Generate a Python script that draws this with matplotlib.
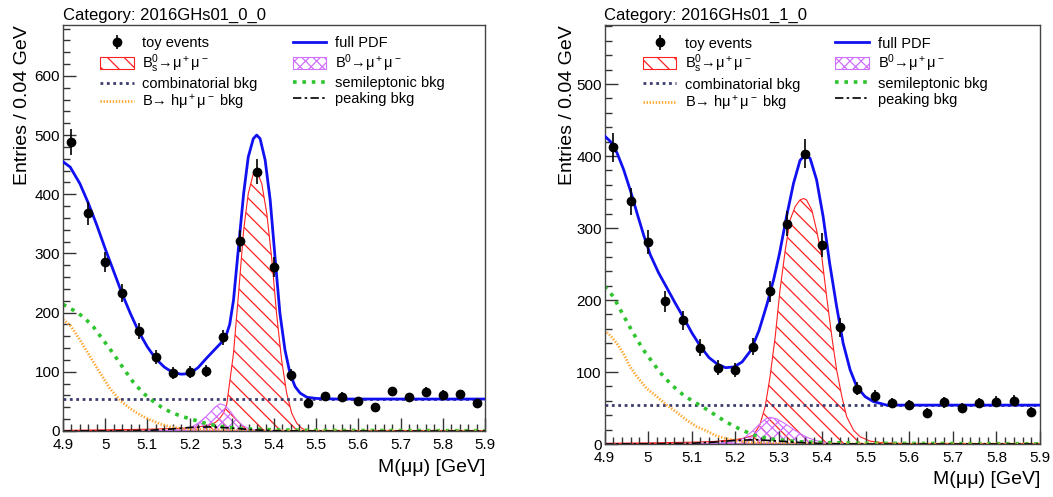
import numpy as np
import matplotlib
matplotlib.use("Agg")
import matplotlib.pyplot as plt
from matplotlib import ticker

plt.rcParams['font.family'] = ['Liberation Sans', 'DejaVu Sans']
plt.rcParams['mathtext.fontset'] = 'custom'
plt.rcParams['mathtext.rm'] = 'Liberation Sans'
plt.rcParams['mathtext.it'] = 'Liberation Sans:italic'
plt.rcParams['mathtext.default'] = 'regular'
plt.rcParams['hatch.linewidth'] = 0.9

# bin centres (0.04 GeV bins)
bin_centres = np.round(np.arange(4.92, 5.9, 0.04), 2)

# ---------------- category 2016GHs01_0_0 ----------------
cat0_counts = [488, 368, 286, 233, 169, 125, 98, 100, 101, 158, 321, 438, 277,
               95, 48, 59, 58, 51, 40, 67, 57, 66, 61, 62, 47]

cat0_full_x = [4.900, 4.917, 4.940, 4.960, 4.980, 5.000, 5.020, 5.040, 5.060, 5.080,
               5.100, 5.120, 5.140, 5.160, 5.180, 5.200, 5.220, 5.240, 5.260, 5.272,
               5.285, 5.295, 5.304, 5.316, 5.328, 5.339, 5.351, 5.359, 5.367, 5.379,
               5.391, 5.403, 5.414, 5.426, 5.438, 5.450, 5.462, 5.478, 5.500, 5.550, 5.900]
cat0_full_y = [455, 446, 418, 385, 348, 308, 270, 232, 198, 167,
               142, 122, 108, 99, 96, 97, 107, 123, 138, 147,
               158, 180, 221, 311, 401, 463, 494, 500, 494, 458,
               390, 289, 199, 137, 97, 75, 64, 57, 55, 54, 54]

cat0_bs_x = [4.90, 5.00, 5.10, 5.20, 5.24, 5.26, 5.27, 5.28, 5.288, 5.304, 5.316,
             5.328, 5.339, 5.351, 5.359, 5.371, 5.383, 5.395, 5.406, 5.418, 5.430,
             5.442, 5.454, 5.466, 5.478, 5.50, 5.90]
cat0_bs_y = [1, 2, 3, 5, 9, 14, 20, 30, 45, 131, 232,
             339, 401, 435, 440, 418, 367, 289, 199, 120, 64,
             30, 13, 4.5, 1, 0, 0]

cat0_b0_x = [5.10, 5.15, 5.18, 5.20, 5.22, 5.24, 5.26, 5.272, 5.285, 5.30, 5.31,
             5.324, 5.34, 5.36, 5.40]
cat0_b0_y = [0, 1, 2, 5, 13, 25, 40, 46, 43, 30, 20, 10, 4, 1, 0]

cat0_comb_x = [4.9, 5.9]
cat0_comb_y = [54, 54]

cat0_semi_x = [4.900, 4.925, 4.948, 4.972, 4.995, 5.019, 5.043, 5.066, 5.090, 5.114,
               5.138, 5.161, 5.185, 5.209, 5.232, 5.256, 5.280, 5.319, 5.40, 5.50, 5.90]
cat0_semi_y = [214, 204, 193, 176, 154, 131, 106, 83, 64, 50,
               38, 30, 24, 19, 14, 10, 7, 4, 2, 1, 0.5]

cat0_hmm_x = [4.900, 4.917, 4.940, 4.964, 4.988, 5.011, 5.035, 5.059, 5.083, 5.106,
              5.130, 5.154, 5.178, 5.209, 5.30, 5.40, 5.90]
cat0_hmm_y = [188, 179, 154, 126, 98, 72, 52, 38, 27, 19,
              12, 7, 4.5, 3, 1, 0.3, 0]

cat0_peak_x = [4.90, 5.05, 5.10, 5.15, 5.20, 5.25, 5.30, 5.35, 5.40, 5.50, 5.90]
cat0_peak_y = [0, 0.5, 1, 3, 6, 7, 5, 2, 0.5, 0, 0]

# ---------------- category 2016GHs01_1_0 ----------------
cat1_counts = [412, 337, 280, 198, 172, 134, 106, 103, 135, 212, 306, 403, 276,
               162, 77, 67, 57, 54, 43, 58, 50, 57, 59, 60, 45]

cat1_full_x = [4.900, 4.914, 4.929, 4.944, 4.960, 4.975, 4.990, 5.005, 5.024, 5.044,
               5.063, 5.082, 5.101, 5.121, 5.140, 5.159, 5.178, 5.197, 5.216, 5.236,
               5.255, 5.274, 5.289, 5.302, 5.318, 5.334, 5.349, 5.360, 5.372, 5.387,
               5.402, 5.417, 5.433, 5.448, 5.464, 5.479, 5.498, 5.517, 5.548, 5.900]
cat1_full_y = [428, 420, 404, 381, 351, 320, 290, 263, 238, 216,
               195, 175, 154, 135, 120, 111, 106, 107, 114, 130,
               158, 196, 230, 265, 316, 362, 394, 401, 397, 367,
               316, 251, 191, 140, 103, 80, 66, 59, 54, 54]

cat1_bs_x = [4.90, 5.00, 5.10, 5.15, 5.20, 5.22, 5.242, 5.257, 5.269, 5.280, 5.292,
             5.303, 5.315, 5.326, 5.338, 5.349, 5.357, 5.364, 5.376, 5.387, 5.399,
             5.410, 5.422, 5.433, 5.445, 5.456, 5.472, 5.487, 5.510, 5.541, 5.60, 5.90]
cat1_bs_y = [1, 1.5, 2.5, 3.5, 6, 8, 12, 27, 52, 93, 149,
             214, 269, 311, 330, 339, 341, 339, 325, 297, 260,
             205, 149, 103, 66, 38, 19, 10, 4, 1.5, 0.5, 0]

cat1_b0_x = [5.10, 5.16, 5.20, 5.22, 5.24, 5.255, 5.27, 5.28, 5.295, 5.31, 5.33,
             5.35, 5.37, 5.39, 5.42, 5.46]
cat1_b0_y = [0, 1, 3, 8, 18, 27, 35, 37, 35, 30, 22, 14, 8, 4, 1, 0]

cat1_comb_x = [4.9, 5.9]
cat1_comb_y = [54, 54]

cat1_semi_x = [4.900, 4.920, 4.943, 4.966, 4.989, 5.012, 5.035, 5.058, 5.081, 5.104,
               5.127, 5.150, 5.173, 5.196, 5.219, 5.242, 5.265, 5.288, 5.35, 5.40,
               5.50, 5.90]
cat1_semi_y = [219, 205, 179, 154, 131, 112, 94, 80, 68, 59,
               51, 42, 33, 25, 18.5, 12.5, 9, 6.5, 3, 2, 1, 0.3]

cat1_hmm_x = [4.900, 4.913, 4.928, 4.943, 4.959, 4.974, 4.997, 5.020, 5.043, 5.066,
              5.089, 5.112, 5.135, 5.158, 5.181, 5.204, 5.235, 5.30, 5.40, 5.90]
cat1_hmm_y = [158, 151, 140, 126, 107, 94, 77, 66, 54, 44,
              33, 24, 18, 11, 7.4, 4.6, 2, 1, 0.3, 0]

cat1_peak_x = [4.90, 5.05, 5.10, 5.15, 5.20, 5.25, 5.30, 5.35, 5.40, 5.50, 5.90]
cat1_peak_y = [0, 0.5, 1, 2.5, 5, 6, 4, 2, 0.5, 0, 0]


def draw_category(ax, title, counts, full, bs, b0, comb, semi, hmm, peak, ymax,
                  ylab_x, xlab_y):
    ax.fill_between(bs[0], bs[1], 0, facecolor='none', edgecolor='#ff2020',
                    hatch='\\\\', linewidth=0.8, zorder=1,
                    label=r'B$_s^0$→μ$^+$μ$^-$')
    ax.fill_between(b0[0], b0[1], 0, facecolor='none', edgecolor='#d070ff',
                    hatch='xxx', linewidth=0.8, zorder=1,
                    label=r'B$^0$→μ$^+$μ$^-$')
    ax.plot(comb[0], comb[1], color='#3c3c6e', lw=2.0, ls=(0, (1, 1.3)), zorder=2,
            label='combinatorial bkg')
    ax.plot(semi[0], semi[1], color='#2ec42e', lw=2.6, ls=(0, (1, 1.6)), zorder=2,
            label='semileptonic bkg')
    ax.plot(hmm[0], hmm[1], color='#ffa733', lw=2.0, ls=(0, (0.5, 0.6)), zorder=2,
            label=r'B→ hμ$^+$μ$^-$ bkg')
    ax.plot(peak[0], peak[1], color='black', lw=1.2, ls=(0, (5, 2, 1.5, 2)), zorder=2,
            label='peaking bkg')
    ax.plot(full[0], full[1], color='#1010f0', lw=2.0, zorder=3, label='full PDF')
    cnt = np.array(counts, dtype=float)
    ax.errorbar(bin_centres, cnt, yerr=np.sqrt(cnt), fmt='o', color='black', ms=6,
                elinewidth=1.2, capsize=0, zorder=5, label='toy events')

    ax.set_xlim(4.9, 5.9)
    ax.set_ylim(0, ymax)
    ax.xaxis.set_major_locator(ticker.MultipleLocator(0.1))
    ax.xaxis.set_minor_locator(ticker.MultipleLocator(0.02))
    ax.xaxis.set_major_formatter(ticker.FormatStrFormatter('%g'))
    ax.yaxis.set_major_locator(ticker.MultipleLocator(100))
    ax.yaxis.set_minor_locator(ticker.MultipleLocator(20))
    ax.tick_params(which='both', direction='in', top=False, right=False,
                   labelsize=11, color='#333333')
    ax.tick_params(which='major', length=9.5, width=1.0)
    ax.tick_params(which='minor', length=5, width=1.0)
    ax.tick_params(axis='y', pad=2)
    ax.tick_params(axis='x', pad=5)
    for lab in ax.get_yticklabels():
        lab.set_va('center_baseline')
    for s in ax.spines.values():
        s.set_color('#444444')
        s.set_linewidth(1.0)

    ax.set_title(title, loc='left', fontsize=12, pad=3.5)
    ax.set_ylabel('Entries / 0.04 GeV', fontsize=14, loc='top')
    ax.yaxis.set_label_coords(ylab_x, 1.0)
    ax.set_xlabel('M(μμ) [GeV]', fontsize=14, loc='right')
    ax.xaxis.set_label_coords(1.0, xlab_y)

    h, l = ax.get_legend_handles_labels()
    order = ['toy events', r'B$_s^0$→μ$^+$μ$^-$', 'combinatorial bkg',
             r'B→ hμ$^+$μ$^-$ bkg', 'full PDF', r'B$^0$→μ$^+$μ$^-$',
             'semileptonic bkg', 'peaking bkg']
    hh = [h[l.index(o)] for o in order]
    ax.legend(hh, order, ncol=2, loc='upper left', bbox_to_anchor=(0.088, 0.972),
              frameon=False, fontsize=10.5, handlelength=2.3, handleheight=0.9,
              handletextpad=0.6, columnspacing=2.4, labelspacing=0.14,
              borderpad=0, borderaxespad=0)


fig = plt.figure(figsize=(10.53, 4.97), dpi=100)
ax0 = fig.add_axes([63 / 1053, 1 - 431 / 497, 422 / 1053, 406 / 497])
ax1 = fig.add_axes([604.5 / 1053, 1 - 444 / 497, 435.5 / 1053, 419 / 497])

draw_category(ax0, 'Category: 2016GHs01_0_0', cat0_counts,
              (cat0_full_x, cat0_full_y), (cat0_bs_x, cat0_bs_y),
              (cat0_b0_x, cat0_b0_y), (cat0_comb_x, cat0_comb_y),
              (cat0_semi_x, cat0_semi_y), (cat0_hmm_x, cat0_hmm_y),
              (cat0_peak_x, cat0_peak_y), 686, -0.075, -0.07)
draw_category(ax1, 'Category: 2016GHs01_1_0', cat1_counts,
              (cat1_full_x, cat1_full_y), (cat1_bs_x, cat1_bs_y),
              (cat1_b0_x, cat1_b0_y), (cat1_comb_x, cat1_comb_y),
              (cat1_semi_x, cat1_semi_y), (cat1_hmm_x, cat1_hmm_y),
              (cat1_peak_x, cat1_peak_y), 582, -0.065, -0.065)

fig.savefig('out.png', dpi=100)
